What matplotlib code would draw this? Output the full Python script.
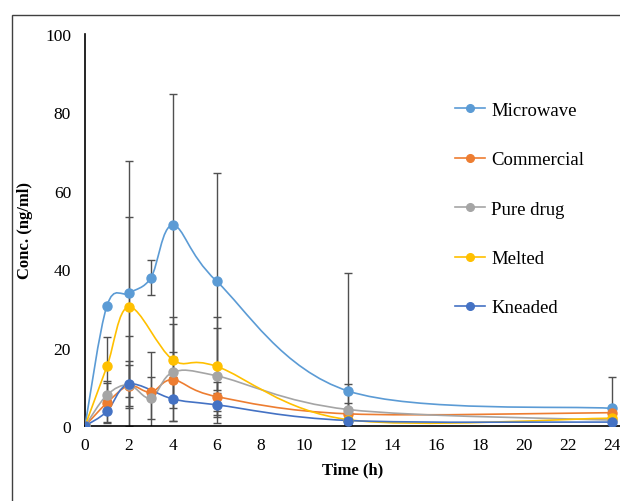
import numpy as np
import matplotlib
matplotlib.use("Agg")
import matplotlib.pyplot as plt
from matplotlib.path import Path
from matplotlib.patches import PathPatch, Rectangle
from matplotlib.lines import Line2D

nan = np.nan

# sampling times (h)
time_h = [0, 1, 2, 3, 4, 6, 12, 24]

# mean plasma concentration (ng/ml) (nan = no point at 3 h)
microwave = [0, 30.7, 33.9, 37.8, 51.2, 36.9, 8.9, 4.5]
commercial = [0, 5.9, 10.3, 8.6, 11.8, 7.5, 3.1, 3.4]
pure_drug = [0, 7.9, 10.5, 7.1, 13.7, 12.8, 4.2, 1.5]
melted = [0, 15.2, 30.4, nan, 16.9, 15.2, 1.6, 2.0]
kneaded = [0, 3.7, 10.7, nan, 6.9, 5.4, 1.4, 1.0]

# standard deviations (error bars)
microwave_sd = [0, 0, 33.8, 4.5, 33.6, 27.6, 30.1, 8.0]
commercial_sd = [0, 5.0, 5.2, 10.2, 7.2, 3.6, 2.8, 1.0]
pure_drug_sd = [0, 3.5, 12.5, 5.3, 12.3, 12.1, 6.5, 1.0]
melted_sd = [0, 7.6, 22.9, nan, 10.8, 12.5, 1.0, 0.5]
kneaded_sd = [0, 3.0, 6.0, nan, 5.5, 3.0, 0.5, 0.5]

names = ["Microwave", "Commercial", "Pure drug", "Melted", "Kneaded"]
colors = ["#5B9BD5", "#ED7D31", "#A5A5A5", "#FFC000", "#4472C4"]
series = [microwave, commercial, pure_drug, melted, kneaded]
sds = [microwave_sd, commercial_sd, pure_drug_sd, melted_sd, kneaded_sd]


def smooth_path(x, y):
    # excel-style smoothed line: cubic bezier with catmull-rom control points
    pts = np.column_stack([x, y]).astype(float)
    pts = pts[~np.isnan(pts[:, 1])]
    n = len(pts)
    verts = [pts[0]]
    codes = [Path.MOVETO]
    for i in range(n - 1):
        p0 = pts[i - 1] if i > 0 else pts[i]
        p1 = pts[i]
        p2 = pts[i + 1]
        p3 = pts[i + 2] if i + 2 < n else pts[i + 1]
        verts += [p1 + (p2 - p0) / 6, p2 - (p3 - p1) / 6, p2]
        codes += [Path.CURVE4] * 3
    return Path(verts, codes)


plt.rcParams["font.family"] = ["Liberation Serif", "DejaVu Serif"]

fig = plt.figure(figsize=(6.2, 5.02), dpi=100)
ax = fig.add_axes([0.1371, 0.1494, 0.864, 0.7809])

# error bars first so lines and markers sit on top
for vals, sd in zip(series, sds):
    ax.errorbar(time_h, vals, yerr=sd, fmt="none", ecolor="#505050",
                elinewidth=1.0, capsize=3, capthick=1.0, zorder=2)

handles = []
for name, vals, col in zip(names, series, colors):
    ax.add_patch(PathPatch(smooth_path(time_h, vals), facecolor="none",
                           edgecolor=col, lw=1.2, zorder=3))
    ax.plot(time_h, vals, "o", color=col, ms=6.5, zorder=4)
    handles.append(Line2D([], [], color=col, lw=1.2, marker="o", ms=5.5))

ax.set_xlim(0, 24.4)
ax.set_ylim(0, 100)
ax.set_xticks(range(0, 25, 2))
ax.set_yticks(range(0, 101, 20))
ax.tick_params(length=0, labelsize=12.5, pad=8)
ax.tick_params(axis="y", pad=10)
for s in ["top", "right"]:
    ax.spines[s].set_visible(False)
ax.spines["left"].set_linewidth(1.2)
ax.spines["bottom"].set_linewidth(1.2)

ax.set_xlabel("Time (h)", fontsize=12, fontweight="bold", labelpad=6)
ax.set_ylabel("Conc. (ng/ml)", fontsize=12, fontweight="bold", labelpad=9)

ax.legend(handles, names, loc="upper left", bbox_to_anchor=(0.66, 0.87),
          frameon=False, fontsize=13.5, labelspacing=1.72, handlelength=1.6,
          handletextpad=0.3)

# chart border (cropped on the right and bottom)
fig.patches.append(Rectangle((12 / 620, -0.1), 1.2, 0.1 + (502 - 16) / 502,
                             transform=fig.transFigure, fill=False,
                             edgecolor="#404040", lw=1.0))

fig.savefig("out.png", dpi=100)
